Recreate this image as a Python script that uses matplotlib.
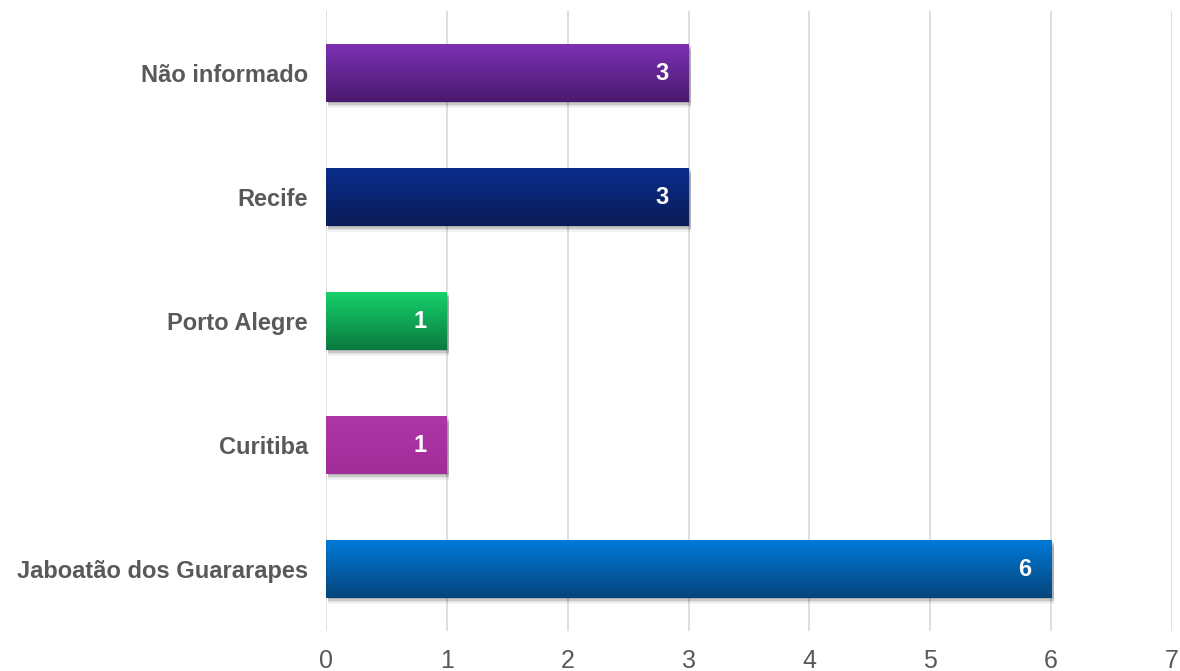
import numpy as np
import matplotlib
matplotlib.use("Agg")
import matplotlib.pyplot as plt
from matplotlib.colors import LinearSegmentedColormap
from matplotlib.patches import Rectangle

cities = ["Jaboatão dos Guararapes", "Curitiba", "Porto Alegre", "Recife", "Não informado"]
counts = [6, 1, 1, 3, 3]
top_colors = ["#0079d6", "#ae36a7", "#16d06a", "#0b2d8c", "#7b31b2"]
bottom_colors = ["#05457c", "#a12d98", "#0a7a40", "#0a1c58", "#4a1a70"]
xticks = [0, 1, 2, 3, 4, 5, 6, 7]

fig = plt.figure(figsize=(11.8, 6.71), dpi=100)
ax = fig.add_axes([326 / 1180, 40 / 671, 846 / 1180, 620 / 671])

bar_h = 0.46
for i, (name, val) in enumerate(zip(cities, counts)):
    # soft shadow below/right of the bar
    for k, a in enumerate([0.13, 0.10, 0.07, 0.05]):
        off = 0.012 + k * 0.013
        ax.add_patch(Rectangle((0.02, i - bar_h / 2 - off), val, bar_h,
                               facecolor="#000000", alpha=a, edgecolor="none", zorder=2))
    cmap = LinearSegmentedColormap.from_list("g", [bottom_colors[i], top_colors[i]])
    grad = np.linspace(0, 1, 64).reshape(-1, 1)
    ax.imshow(grad, cmap=cmap, aspect="auto", origin="lower",
              extent=[0, val, i - bar_h / 2, i + bar_h / 2], zorder=3)
    ax.text(val - 0.22, i, str(val), color="white", fontsize=17, fontweight="bold",
            family="Liberation Sans", ha="center", va="center", zorder=4)

ax.set_xlim(0, 7)
ax.set_ylim(-0.5, 4.5)
ax.set_xticks(xticks)
ax.set_yticks(range(len(cities)))
ax.set_yticklabels(cities, fontsize=17, fontweight="bold", color="#595959",
                   family="Liberation Sans")
ax.set_xticklabels([str(t) for t in xticks], fontsize=18, color="#595959",
                   family="Liberation Sans")
ax.tick_params(length=0)
ax.tick_params(axis="y", pad=13)
ax.tick_params(axis="x", pad=13)
ax.grid(axis="x", color="#d9d9d9", linewidth=1.2, zorder=0)
ax.set_axisbelow(True)
for s in ax.spines.values():
    s.set_visible(False)

fig.savefig("out.png", dpi=100)
